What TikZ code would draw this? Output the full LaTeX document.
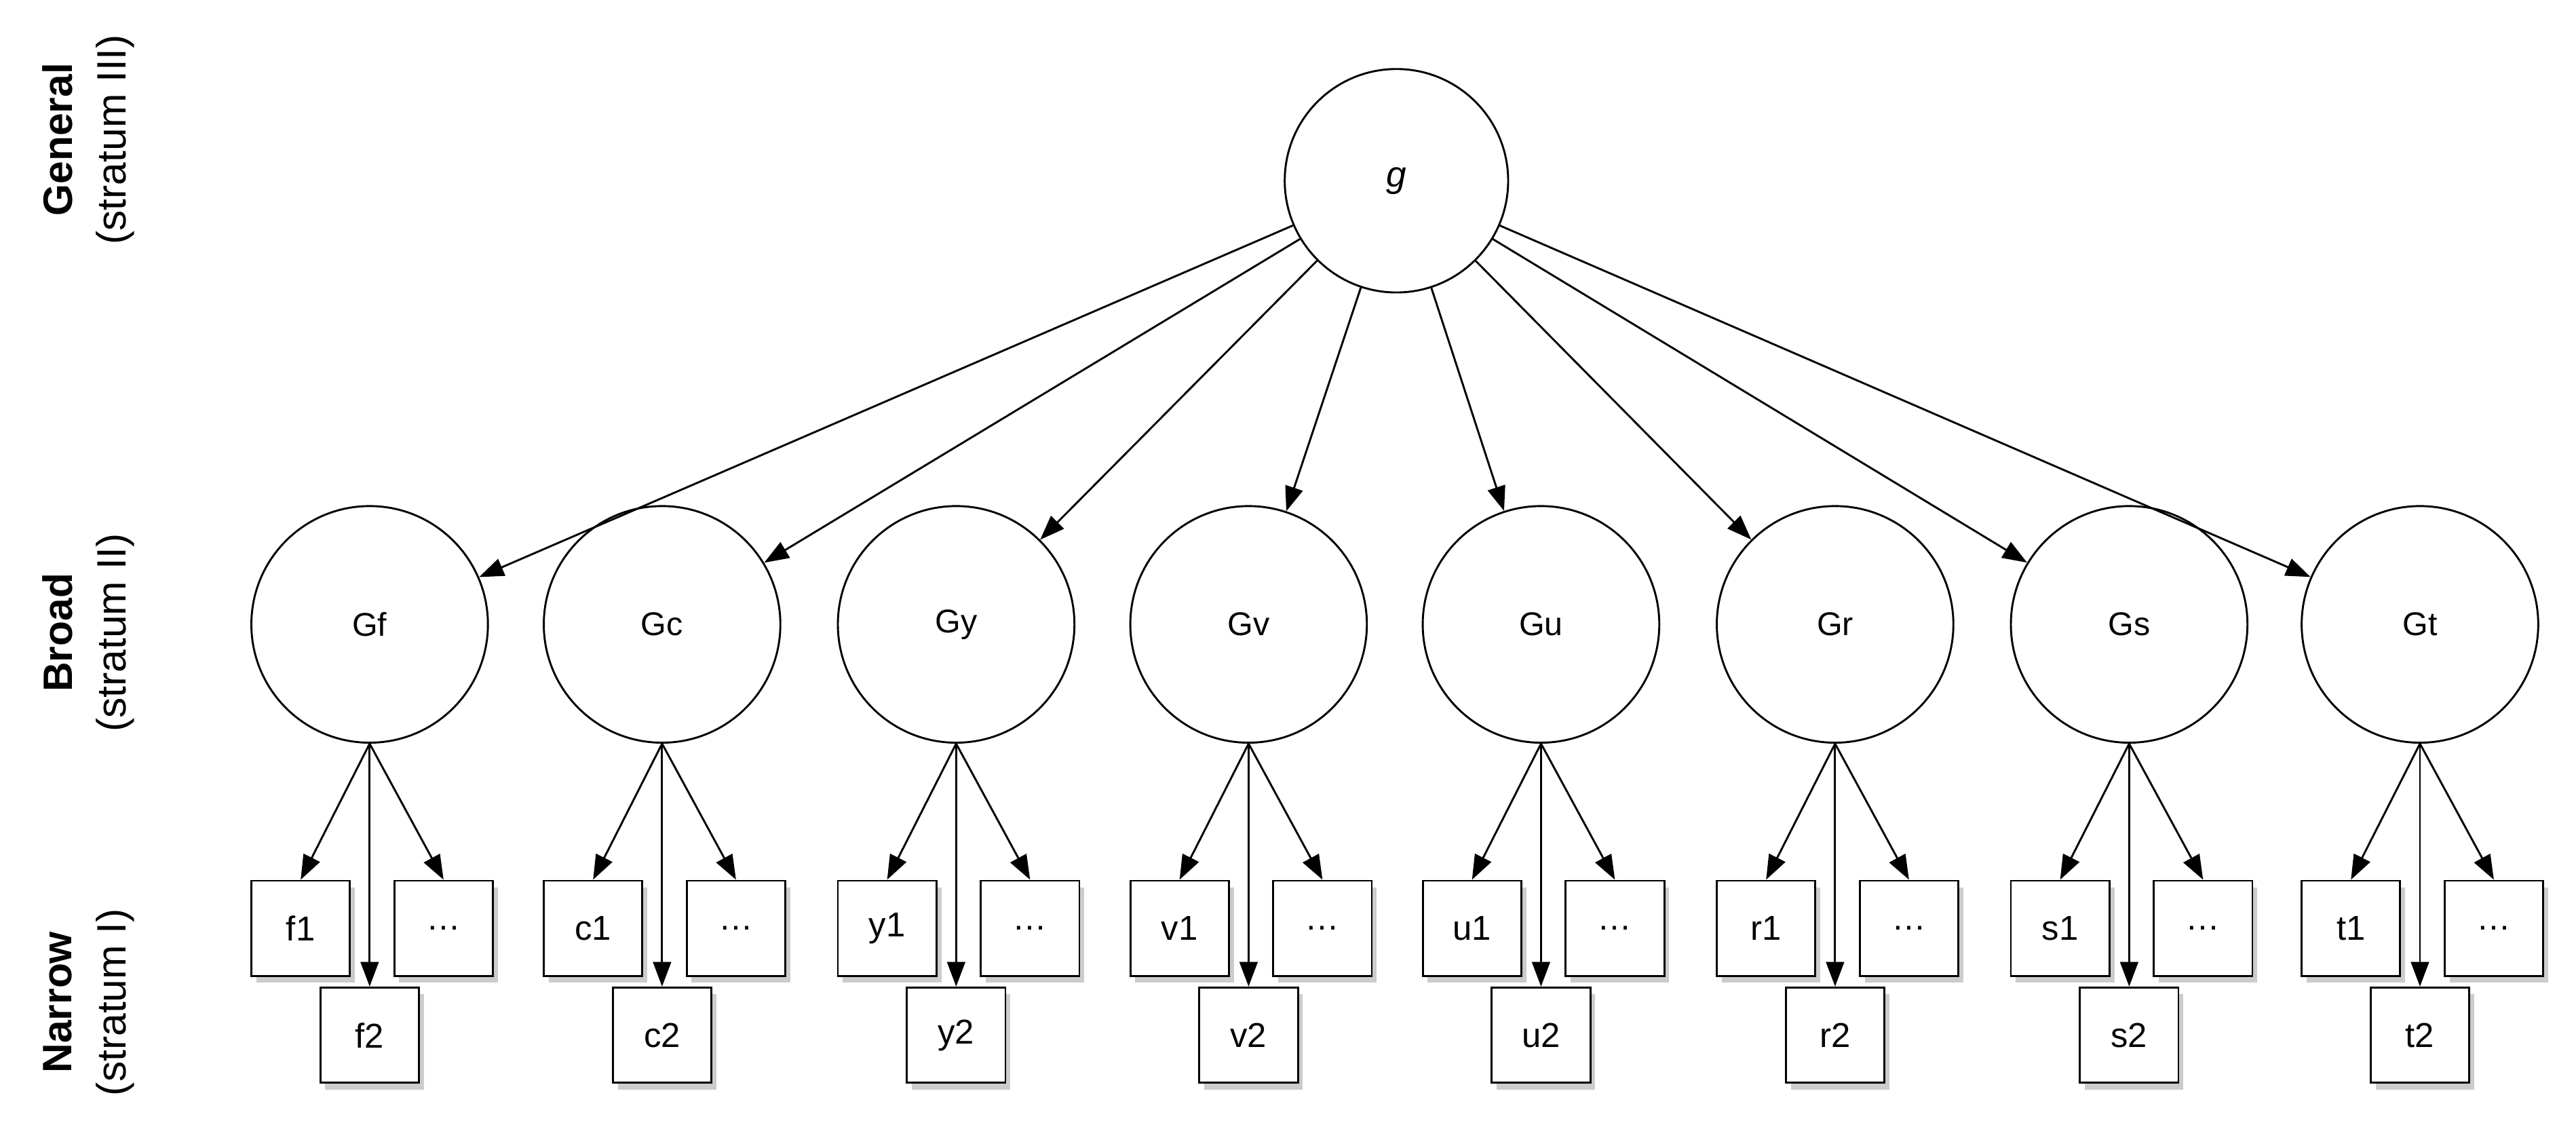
\documentclass[tikz,border=0pt]{standalone}
\usepackage{fontspec}
\setmainfont{Liberation Sans}
\usetikzlibrary{arrows.meta,shadows}
\begin{document}
\begin{tikzpicture}[x=1pt,y=-1pt,
  lat/.style={circle,draw,line width=1.2pt,minimum size=144pt,inner sep=0pt,font=\fontsize{20}{24}\selectfont},
  top/.style={circle,draw,line width=1.2pt,minimum size=136pt,inner sep=0pt,font=\fontsize{22}{26}\selectfont\itshape},
  box/.style={draw,line width=1.2pt,fill=white,minimum width=60pt,minimum height=58pt,inner sep=0pt,
    font=\fontsize{21}{25}\selectfont,drop shadow={shadow xshift=3pt,shadow yshift=-4pt,opacity=0.4}},
  arr/.style={-{Triangle[length=15pt,width=11pt]},line width=1.2pt},
  side/.style={rotate=90,font=\fontsize{25}{30}\selectfont,anchor=center}]
\useasboundingbox (0,0) rectangle (1568,696);
\node[side,font=\fontsize{25}{30}\selectfont\bfseries] (l1a) at (35,85) {General};
\node[side] (l1b) at (70,85) {(stratum III)};
\node[side,font=\fontsize{25}{30}\selectfont\bfseries] (l2a) at (35,385) {Broad};
\node[side] (l2b) at (70,385) {(stratum II)};
\node[side,font=\fontsize{25}{30}\selectfont\bfseries] (l3a) at (35,610) {Narrow};
\node[side] (l3b) at (70,610) {(stratum I)};
\node[top] (g) at (850,110) {g};
\foreach \x/\n in {225/f,403/c,582/y,760/v,938/u,1117/r,1296/s,1473/t}{
  \node[lat] (G\n) at (\x,380) {G\n};
  \node[box] (\n1) at (\x-42,565) {\n1};
  \node[box] (\n3) at (\x+45,565) {\dots};
  \node[box] (\n2) at (\x,630) {\n2};
  \draw[arr] (g) -- (G\n);
  \coordinate (s\n) at (G\n.south);
  \draw[arr] (s\n) -- (\n1.north);
  \draw[arr] (s\n) -- (\n2.north);
  \draw[arr] (s\n) -- (\n3.north);
}
\end{tikzpicture}
\end{document}
